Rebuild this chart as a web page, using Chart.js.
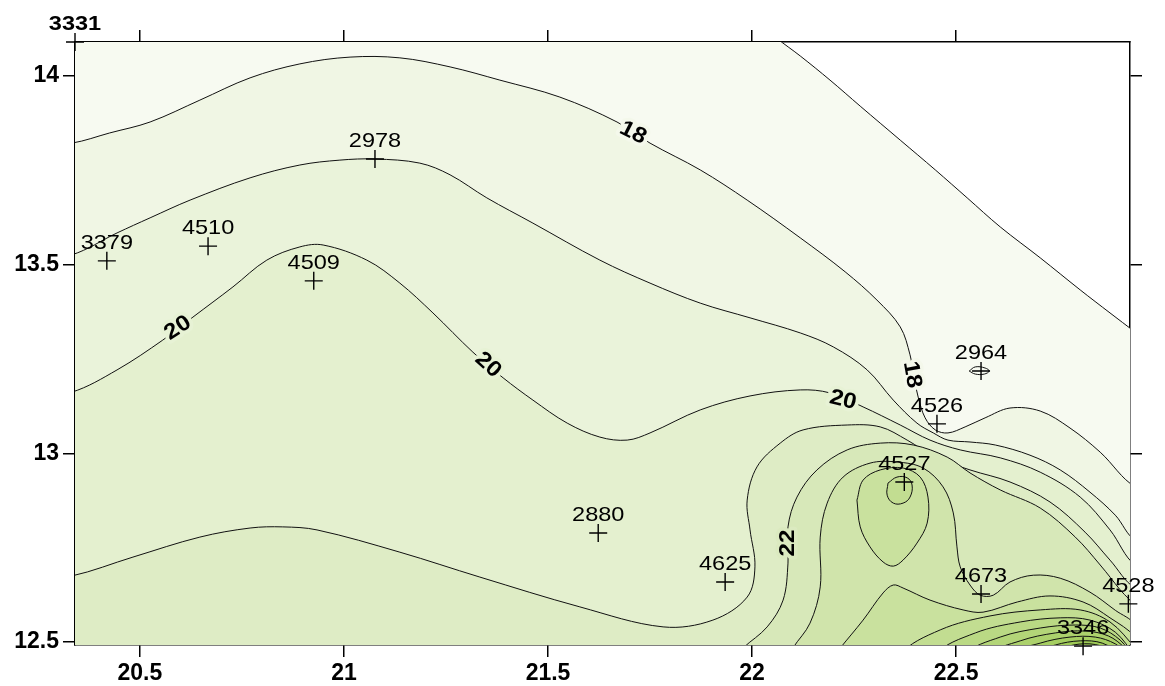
<!DOCTYPE html>
<html>
<head>
<meta charset="utf-8">
<title>Contour map</title>
<script src="https://cdn.jsdelivr.net/npm/chart.js"></script>
<style>
  html, body { margin: 0; padding: 0; background: #fff; }
</style>
</head>
<body>
<canvas id="map" width="1165" height="686"></canvas>
<script>
// Axis ranges and ticks
const xRange = [20.341, 22.926];
const yRange = [12.492, 14.090];
const xTicks = [20.5, 21, 21.5, 22, 22.5];
const yTicks = [12.5, 13, 13.5, 14];

// Stations (label, lon, lat)
const stationIds = ['3331', '2978', '3379', '4510', '4509', '2964', '4526', '4527', '2880', '4625', '4673', '4528', '3346'];
const stationX = [20.341, 21.076, 20.419, 20.667, 20.926, 22.561, 22.453, 22.373, 21.623, 21.934, 22.561, 22.922, 22.811];
const stationY = [14.090, 13.780, 13.510, 13.549, 13.457, 13.218, 13.078, 12.924, 12.789, 12.659, 12.627, 12.601, 12.489];

// Contour lines as [lon, lat]
const iso17 = [[22.059,14.101],[22.118,14.053],[22.191,13.989],[22.265,13.920],[22.363,13.830],[22.449,13.751],
  [22.527,13.677],[22.608,13.600],[22.706,13.518],[22.804,13.433],[22.877,13.372],[22.939,13.321]];
const iso18 = [[20.333,13.822],[20.426,13.849],[20.525,13.878],[20.647,13.936],[20.770,13.995],[20.892,14.032],
  [21.015,14.050],[21.137,14.048],[21.260,14.024],[21.382,13.989],[21.529,13.944],[21.669,13.878],[21.750,13.822],
  [21.873,13.751],[21.988,13.671],[22.118,13.571],[22.228,13.481],[22.306,13.406],[22.363,13.335],[22.387,13.261],
  [22.397,13.200],[22.407,13.149],[22.424,13.094],[22.449,13.062],[22.480,13.054],[22.522,13.070],[22.571,13.094],
  [22.632,13.120],[22.706,13.112],[22.779,13.067],[22.853,13.003],[22.939,12.911]];
const iso19 = [[20.333,13.526],[20.444,13.584],[20.525,13.624],[20.623,13.671],[20.770,13.730],[20.892,13.764],
  [20.990,13.777],[21.076,13.780],[21.186,13.769],[21.260,13.738],[21.350,13.677],[21.463,13.610],[21.627,13.512],
  [21.750,13.451],[21.873,13.398],[21.995,13.359],[22.118,13.319],[22.199,13.282],[22.282,13.221],[22.346,13.141],
  [22.404,13.080],[22.444,13.054],[22.480,13.035],[22.534,13.030],[22.596,13.022],[22.681,12.995],[22.755,12.956],
  [22.828,12.897],[22.890,12.836],[22.939,12.770]];
const iso20 = [[20.333,13.162],[20.444,13.221],[20.556,13.300],[20.630,13.361],[20.728,13.441],[20.811,13.512],
  [20.892,13.547],[20.949,13.552],[21.056,13.512],[21.137,13.451],[21.218,13.372],[21.316,13.268],[21.390,13.200],
  [21.463,13.141],[21.547,13.080],[21.627,13.043],[21.694,13.035],[21.750,13.054],[21.873,13.115],[21.995,13.152],
  [22.118,13.168],[22.191,13.160],[22.272,13.123],[22.363,13.075],[22.436,13.035],[22.510,13.009],[22.608,12.988],
  [22.706,12.950],[22.804,12.884],[22.877,12.797],[22.939,12.704]];
const iso21 = [[20.333,12.675],[20.483,12.725],[20.647,12.778],[20.770,12.802],[20.850,12.805],[20.934,12.797],
  [21.137,12.738],[21.333,12.672],[21.578,12.593],[21.782,12.540],[21.904,12.558],[21.988,12.619],[22.007,12.699],
  [21.995,12.797],[21.988,12.876],[22.012,12.964],[22.069,13.027],[22.125,13.062],[22.233,13.075],[22.314,13.070],
  [22.380,13.035],[22.449,12.990],[22.534,12.956],[22.632,12.924],[22.730,12.871],[22.816,12.791],[22.877,12.717],
  [22.939,12.643]];
const iso22 = [[21.966,12.465],[21.978,12.484],[22.037,12.540],[22.076,12.611],[22.088,12.709],[22.088,12.805],
  [22.110,12.884],[22.159,12.956],[22.233,13.009],[22.314,13.027],[22.395,13.022],[22.478,12.990],[22.534,12.948],
  [22.608,12.903],[22.706,12.855],[22.792,12.778],[22.853,12.704],[22.902,12.638],[22.939,12.590]];
const iso23 = [[22.093,12.465],[22.100,12.484],[22.142,12.550],[22.167,12.646],[22.167,12.778],[22.184,12.868],
  [22.223,12.937],[22.289,12.974],[22.355,12.977],[22.419,12.961],[22.468,12.911],[22.493,12.842],[22.502,12.752],
  [22.510,12.699],[22.534,12.651],[22.559,12.624],[22.591,12.624],[22.632,12.659],[22.689,12.677],[22.755,12.669],
  [22.828,12.632],[22.890,12.584],[22.939,12.545]];
const iso24 = [[22.203,12.465],[22.216,12.484],[22.272,12.558],[22.321,12.630],[22.346,12.651],[22.370,12.643],
  [22.436,12.611],[22.517,12.585],[22.566,12.579],[22.650,12.606],[22.730,12.622],[22.811,12.606],[22.877,12.564],
  [22.939,12.513]];
const iso24Loop = [[22.257,12.876],[22.272,12.929],[22.314,12.956],[22.370,12.961],[22.412,12.937],[22.431,12.884],
  [22.429,12.815],[22.404,12.762],[22.370,12.717],[22.346,12.701],[22.321,12.712],[22.289,12.752],[22.265,12.805]];
const iso25Loop = [[22.333,12.921],[22.355,12.937],[22.380,12.935],[22.392,12.916],[22.387,12.884],[22.370,12.868],
  [22.346,12.868],[22.331,12.889]];
const iso17Loop = [[22.532,13.218],[22.547,13.229],[22.571,13.226],[22.581,13.218],[22.569,13.210],[22.547,13.210]];
const iso25 = [[22.363,12.465],[22.461,12.532],[22.583,12.569],[22.706,12.585],[22.804,12.585],[22.877,12.553],[22.939,12.484]];
const iso26 = [[22.449,12.465],[22.547,12.524],[22.657,12.553],[22.755,12.564],[22.828,12.558],[22.890,12.526],[22.939,12.465]];
const iso27 = [[22.522,12.465],[22.608,12.513],[22.706,12.537],[22.792,12.545],[22.853,12.537],[22.902,12.505],[22.939,12.457]];
const iso28 = [[22.583,12.465],[22.657,12.503],[22.743,12.524],[22.816,12.529],[22.873,12.516],[22.914,12.484],[22.939,12.452]];
const iso29 = [[22.632,12.465],[22.706,12.497],[22.779,12.513],[22.841,12.513],[22.890,12.495],[22.926,12.463]];
const iso30 = [[22.681,12.465],[22.743,12.492],[22.804,12.503],[22.858,12.497],[22.907,12.465]];
const iso31 = [[22.718,12.465],[22.775,12.489],[22.828,12.495],[22.877,12.481],[22.897,12.463]];

// Contour labels
const labelText = ['18', '18', '20', '20', '20', '22'];
const labelX = [21.708, 22.392, 20.593, 21.353, 22.223, 22.088];
const labelY = [13.849, 13.208, 13.332, 13.234, 13.141, 12.762];
const labelAngle = [27, 80, -33, 42, 14, -90];

// Fill colour for the band above each level
const levelColors = {
  17: '#f7faf1', 18: '#f0f6e4', 19: '#eaf3da', 20: '#e4f0cf', 21: '#deecc5', 22: '#d7e8b9',
  23: '#d0e4ab', 24: '#c9e19e', 25: '#c2dd91', 26: '#bad984', 27: '#b3d578', 28: '#acd16c',
  29: '#a5ce61', 30: '#9eca56', 31: '#97c64c'
};

// far-away points used to close polygons outside the plot
const FAR_LEFT = 20.2, FAR_RIGHT = 23.1, FAR_BOTTOM = 12.3, FAR_TOP = 14.3;

const toPts = arr => arr.map(p => ({ x: p[0], y: p[1] }));

// polygon for a line running from the left edge to the right edge
function leftRightShape(line) {
  const first = line[0], last = line[line.length - 1];
  return toPts([[FAR_LEFT, FAR_BOTTOM], [FAR_LEFT, first[1]], [20.27, first[1]]]
    .concat(line, [[23.0, last[1]], [FAR_RIGHT, last[1]], [FAR_RIGHT, FAR_BOTTOM]]));
}
// polygon for a line starting at the bottom edge
function bottomShape(line) {
  const first = line[0], last = line[line.length - 1];
  return toPts([[FAR_LEFT, FAR_BOTTOM], [first[0], 12.38]]
    .concat(line, [[last[0] + 0.05, Math.min(last[1], 12.45) - 0.03], [FAR_RIGHT, FAR_BOTTOM]]));
}
// polygon for the top-right line 17 (helper points follow the line's direction past the top edge)
function topRightShape(line) {
  const last = line[line.length - 1];
  return toPts([[FAR_LEFT, FAR_BOTTOM], [FAR_LEFT, FAR_TOP], [21.85, FAR_TOP], [21.97, 14.18]]
    .concat(line, [[23.0, last[1] - 0.05], [FAR_RIGHT, last[1] - 0.1], [FAR_RIGHT, FAR_BOTTOM]]));
}
const loopShape = line => toPts(line.concat([line[0]]));

function contourSet(level, points, opts) {
  return Object.assign({
    data: points,
    order: -level,
    borderColor: '#111',
    borderWidth: 1,
    backgroundColor: levelColors[level],
    fill: 'shape',
    tension: 0.35,
    pointRadius: 0
  }, opts || {});
}

const datasets = [
  contourSet(17, topRightShape(iso17)),
  contourSet(18, leftRightShape(iso18)),
  contourSet(19, leftRightShape(iso19)),
  contourSet(20, leftRightShape(iso20)),
  contourSet(21, leftRightShape(iso21)),
  contourSet(22, bottomShape(iso22)),
  contourSet(23, bottomShape(iso23)),
  contourSet(24, bottomShape(iso24)),
  contourSet(24.5, loopShape(iso24Loop), { backgroundColor: levelColors[24], clip: false }),
  contourSet(25.5, loopShape(iso25Loop), { backgroundColor: levelColors[25], clip: false, tension: 0.4 }),
  contourSet(25, bottomShape(iso25)),
  contourSet(26, bottomShape(iso26)),
  contourSet(27, bottomShape(iso27)),
  contourSet(28, bottomShape(iso28)),
  contourSet(29, bottomShape(iso29)),
  contourSet(30, bottomShape(iso30)),
  contourSet(31, bottomShape(iso31)),
  contourSet(40, loopShape(iso17Loop), { fill: false, clip: false, tension: 0.4 }),
  {
    data: stationX.map((x, i) => ({ x: x, y: stationY[i] })),
    order: -100,
    showLine: false,
    pointStyle: 'cross',
    pointRadius: 9,
    pointBorderWidth: 1.4,
    pointBorderColor: '#000',
    clip: false
  }
];

// draws station ids and contour values
const labelPlugin = {
  id: 'mapLabels',
  afterDatasetsDraw(chart) {
    const ctx = chart.ctx;
    const xs = chart.scales.x, ys = chart.scales.y;
    ctx.save();
    ctx.fillStyle = '#000';
    ctx.textAlign = 'center';
    stationIds.forEach((id, i) => {
      const px = xs.getPixelForValue(stationX[i]);
      const py = ys.getPixelForValue(stationY[i]);
      ctx.save();
      ctx.translate(px, py - 12);
      ctx.scale(1.12, 1);
      ctx.font = (i === 0 ? 'bold ' : '') + '21px "Liberation Sans", Arial, sans-serif';
      ctx.textBaseline = 'alphabetic';
      ctx.fillText(id, 0, 0);
      ctx.restore();
    });
    labelText.forEach((t, i) => {
      const px = xs.getPixelForValue(labelX[i]);
      const py = ys.getPixelForValue(labelY[i]);
      ctx.save();
      ctx.translate(px, py);
      ctx.rotate(labelAngle[i] * Math.PI / 180);
      ctx.scale(1.1, 1);
      ctx.font = 'bold 22px "Liberation Sans", Arial, sans-serif';
      ctx.textBaseline = 'middle';
      ctx.lineJoin = 'round';
      ctx.lineWidth = 7;
      ctx.strokeStyle = t === '18' ? '#f4f8eb' : (t === '20' ? '#e7f2d5' : '#dbeac0');
      ctx.strokeText(t, 0, 0);
      ctx.fillText(t, 0, 0);
      ctx.restore();
    });
    ctx.restore();
  }
};

const tickFont = { family: '"Liberation Sans", Arial, sans-serif', weight: 'bold', size: 23 };
const gridOpts = { drawOnChartArea: false, drawTicks: true, tickLength: 12, color: '#000', lineWidth: 1.5 };
const borderOpts = { color: '#000', width: 1.5 };

function axis(pos, range, ticks, size, showLabels) {
  const horizontal = pos === 'top' || pos === 'bottom';
  return {
    type: 'linear',
    position: pos,
    min: range[0],
    max: range[1],
    grid: gridOpts,
    border: borderOpts,
    ticks: {
      display: showLabels,
      color: '#000',
      font: tickFont,
      padding: horizontal ? 3 : 4,
      maxRotation: 0,
      autoSkip: false,
      callback: v => String(v)
    },
    afterBuildTicks: s => { s.ticks = ticks.map(v => ({ value: v })); },
    afterFit: s => { if (horizontal) s.height = size; else s.width = size; }
  };
}

new Chart(document.getElementById('map'), {
  type: 'line',
  data: { datasets: datasets },
  options: {
    responsive: false,
    animation: false,
    devicePixelRatio: 1,
    layout: { padding: 0 },
    elements: { line: { capBezierPoints: false } },
    plugins: { legend: { display: false }, tooltip: { enabled: false } },
    scales: {
      x: axis('bottom', xRange, xTicks, 41, true),
      xTop: axis('top', xRange, xTicks, 42, false),
      y: axis('left', yRange, yTicks, 75, true),
      yRight: axis('right', yRange, yTicks, 35, false)
    }
  },
  plugins: [labelPlugin]
});
</script>
</body>
</html>
